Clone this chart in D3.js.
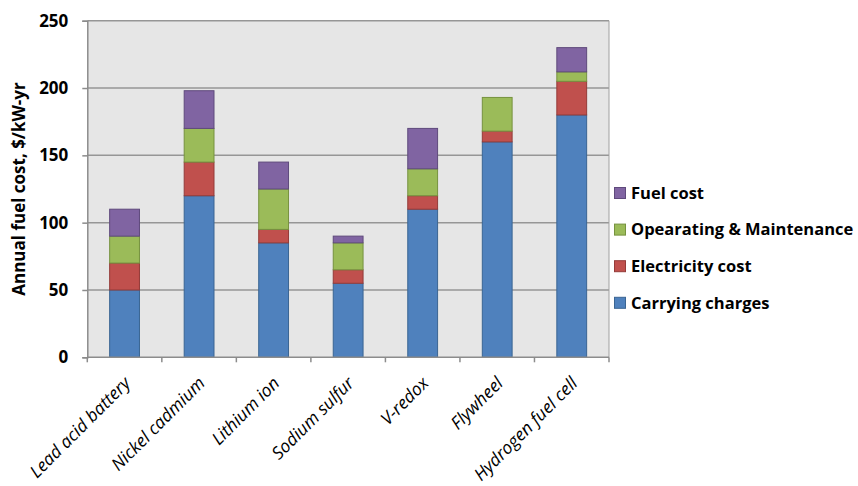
<!DOCTYPE html>
<html>
<head>
<meta charset="utf-8">
<script src="https://cdn.jsdelivr.net/npm/d3@7"></script>
<style>
  body { margin: 0; background: #fff; }
  text { font-family: "Open Sans", Lato, sans-serif; }
</style>
</head>
<body>
<div class="chart"></div>
<script>
var categories = ['Lead acid battery', 'Nickel cadmium', 'Lithium ion', 'Sodium sulfur', 'V-redox', 'Flywheel', 'Hydrogen fuel cell'];
var carrying = [50, 120, 85, 55, 110, 160, 180];
var electricity = [20, 25, 10, 10, 10, 8, 25];
var operating = [20, 25, 30, 20, 20, 25, 7];
var fuel = [20, 28, 20, 5, 30, 0, 18];
var yTicks = [0, 50, 100, 150, 200, 250];

var seriesNames = ['Carrying charges', 'Electricity cost', 'Opearating & Maintenance', 'Fuel cost'];
var seriesData = [carrying, electricity, operating, fuel];
var fills = ['#4f81bd', '#c0504d', '#9bbb59', '#8064a2'];
var strokes = ['#3a6593', '#943b39', '#76923f', '#5f4a7c'];

var svgWidth = 858;
var svgHeight = 486;
var margin = { top: 20.7, right: 249, bottom: 128.7, left: 87.3 };
var width = svgWidth - margin.left - margin.right;
var height = svgHeight - margin.top - margin.bottom;

var svg = d3.select('.chart')
  .append('svg')
  .attr('width', svgWidth)
  .attr('height', svgHeight);

var chart = svg.append('g')
  .attr('transform', 'translate(' + margin.left + ',' + margin.top + ')');

// build rows for the stack
var rows = categories.map(function(c, i) {
  var r = { name: c };
  seriesNames.forEach(function(s, j) { r[s] = seriesData[j][i]; });
  return r;
});
var stacked = d3.stack().keys(seriesNames)(rows);

var x = d3.scaleBand().domain(categories).range([0, width])
  .paddingInner(0.6).paddingOuter(0.3);
var y = d3.scaleLinear().domain([0, 250]).range([height, 0]);

chart.append('rect')
  .attr('width', width)
  .attr('height', height)
  .attr('fill', '#e6e6e6');

// grid lines
chart.selectAll('.grid')
  .data(yTicks.filter(function(d) { return d > 0; }))
  .enter()
  .append('line')
  .attr('x1', 0)
  .attr('x2', width)
  .attr('y1', function(d) { return y(d); })
  .attr('y2', function(d) { return y(d); })
  .attr('stroke', '#969696')
  .attr('stroke-width', 1.5);

chart.append('line')
  .attr('x1', width).attr('x2', width)
  .attr('y1', 0).attr('y2', height)
  .attr('stroke', '#a0a0a0')
  .attr('stroke-width', 1);

// bars
chart.selectAll('.layer')
  .data(stacked)
  .enter()
  .append('g')
  .attr('fill', function(d, i) { return fills[i]; })
  .attr('stroke', function(d, i) { return strokes[i]; })
  .selectAll('rect')
  .data(function(d) { return d.filter(function(p) { return p[1] > p[0]; }); })
  .enter()
  .append('rect')
  .attr('x', function(d) { return x(d.data.name); })
  .attr('width', x.bandwidth())
  .attr('y', function(d) { return y(d[1]); })
  .attr('height', function(d) { return y(d[0]) - y(d[1]); })
  .attr('stroke-width', 1);

// y axis
var left = d3.axisLeft(y).tickValues(yTicks).tickSize(5).tickPadding(14);
var yAxis = chart.append('g').call(left);
yAxis.select('.domain').attr('stroke', '#8c8c8c').attr('stroke-width', 1.5);
yAxis.selectAll('.tick line').attr('stroke', '#8c8c8c').attr('stroke-width', 1.5);
yAxis.selectAll('.tick text')
  .attr('font-family', '"Open Sans", sans-serif')
  .attr('font-size', 17)
  .attr('font-weight', 'bold')
  .attr('fill', '#000');

// x axis line + ticks on band edges
chart.append('line')
  .attr('x1', 0).attr('x2', width)
  .attr('y1', height).attr('y2', height)
  .attr('stroke', '#8c8c8c').attr('stroke-width', 1.5);

chart.selectAll('.xtick')
  .data(d3.range(categories.length + 1))
  .enter()
  .append('line')
  .attr('x1', function(i) { return i * x.step(); })
  .attr('x2', function(i) { return i * x.step(); })
  .attr('y1', height)
  .attr('y2', height + 5)
  .attr('stroke', '#8c8c8c')
  .attr('stroke-width', 1.5);

chart.selectAll('.xlabel')
  .data(categories)
  .enter()
  .append('text')
  .attr('transform', function(d) {
    return 'translate(' + (x(d) + x.bandwidth() / 2 + 7) + ',' + (height + 27) + ') rotate(-45)';
  })
  .attr('text-anchor', 'end')
  .attr('font-size', 17.5)
  .attr('font-style', 'italic')
  .attr('fill', '#000')
  .text(function(d) { return d; });

// y axis title
chart.append('text')
  .attr('transform', 'translate(' + (-margin.left + 25) + ',' + (height / 2) + ') rotate(-90)')
  .attr('text-anchor', 'middle')
  .attr('font-size', 17)
  .attr('font-weight', 'bold')
  .attr('fill', '#000')
  .text('Annual fuel cost, $/kW-yr');

// legend
var legend = svg.append('g')
  .attr('transform', 'translate(614,0)');

var legendItems = legend.selectAll('.item')
  .data(seriesNames.slice().reverse())
  .enter()
  .append('g')
  .attr('transform', function(d, i) { return 'translate(0,' + (193 + i * 36.6) + ')'; });

legendItems.append('rect')
  .attr('x', 0.5)
  .attr('y', -5.5)
  .attr('width', 11)
  .attr('height', 11)
  .attr('fill', function(d) { return fills[seriesNames.indexOf(d)]; })
  .attr('stroke', function(d) { return strokes[seriesNames.indexOf(d)]; });

legendItems.append('text')
  .attr('x', 17)
  .attr('dy', '0.35em')
  .attr('font-size', 16.5)
  .attr('font-weight', 'bold')
  .attr('fill', '#000')
  .text(function(d) { return d; });
</script>
</body>
</html>
